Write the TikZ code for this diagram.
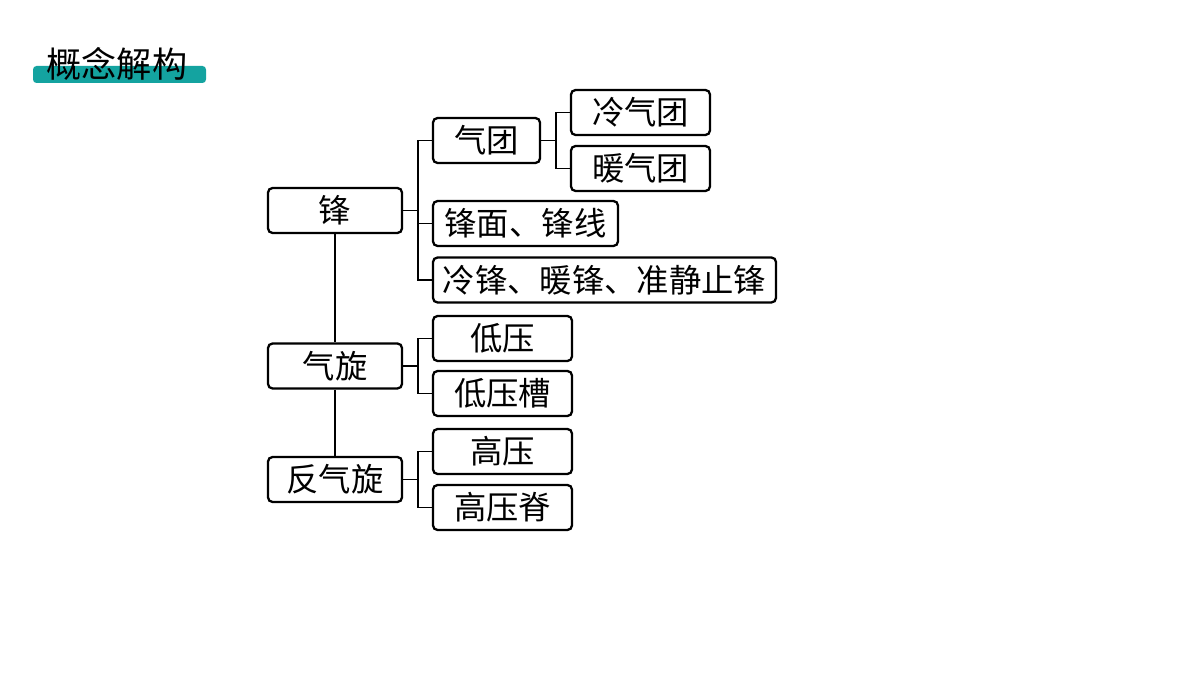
\documentclass[tikz,border=0pt]{standalone}
\usepackage{fontspec}
\newfontfamily\cjk{Noto Sans CJK SC}
\definecolor{titlebar}{RGB}{20, 163, 160}

\begin{document}
\begin{tikzpicture}[
	box/.style={draw, line width=0.65pt, rounded corners=1.3pt, minimum height=0.45cm, inner sep=0pt, font=\cjk\fontsize{9.2}{10}\selectfont},
	link/.style={line width=0.45pt}]
	\useasboundingbox (0,0) rectangle (12,6.75);
	% title
	\fill[titlebar, rounded corners=1pt] (0.33,5.92) rectangle (2.06,6.09);
	\node[font=\cjk\fontsize{10}{12}\selectfont, inner sep=0pt] (title) at (1.17,6.11) {概念解构};
	% main column
	\node[box, minimum width=1.34cm] (feng) at (3.35,4.645) {锋};
	\node[box, minimum width=1.34cm] (qx) at (3.35,3.09) {气旋};
	\node[box, minimum width=1.34cm] (fqx) at (3.35,1.955) {反气旋};
	% second column
	\node[box, minimum width=1.07cm] (qt) at (4.865,5.345) {气团};
	\node[box, minimum width=1.85cm] (fm) at (5.255,4.515) {锋面、锋线};
	\node[box, minimum width=3.43cm] (lf) at (6.045,3.95) {冷锋、暖锋、准静止锋};
	\node[box, minimum width=1.39cm] (dy) at (5.025,3.365) {低压};
	\node[box, minimum width=1.39cm] (dyc) at (5.025,2.815) {低压槽};
	\node[box, minimum width=1.39cm] (gy) at (5.025,2.235) {高压};
	\node[box, minimum width=1.39cm] (gyj) at (5.025,1.675) {高压脊};
	% third column
	\node[box, minimum width=1.39cm] (lqt) at (6.405,5.625) {冷气团};
	\node[box, minimum width=1.39cm] (nqt) at (6.405,5.065) {暖气团};
	% brackets
	\coordinate (b1) at (4.18,4.645);
	\coordinate (b2) at (4.18,3.09);
	\coordinate (b3) at (4.18,1.955);
	\coordinate (b4) at (5.56,5.345);
	\draw[link] (feng.east) -- (b1);
	\draw[link] (b1) |- (qt.west);
	\draw[link] (b1) |- (fm.west);
	\draw[link] (b1) |- (lf.west);
	\draw[link] (qx.east) -- (b2);
	\draw[link] (b2) |- (dy.west);
	\draw[link] (b2) |- (dyc.west);
	\draw[link] (fqx.east) -- (b3);
	\draw[link] (b3) |- (gy.west);
	\draw[link] (b3) |- (gyj.west);
	\draw[link] (qt.east) -- (b4);
	\draw[link] (b4) |- (lqt.west);
	\draw[link] (b4) |- (nqt.west);
	% trunk
	\draw[link] (feng) -- (qx);
	\draw[link] (qx) -- (fqx);
\end{tikzpicture}
\end{document}
